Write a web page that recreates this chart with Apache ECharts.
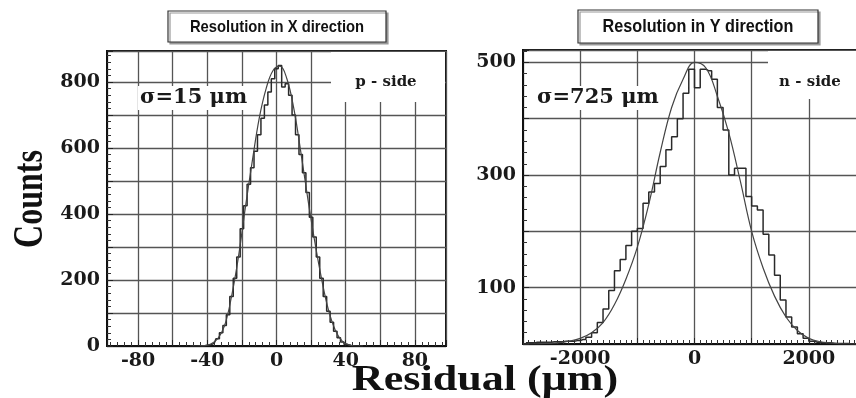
<!DOCTYPE html>
<html>
<head>
<meta charset="utf-8">
<script src="https://cdn.jsdelivr.net/npm/echarts@6/dist/echarts.min.js"></script>
<style>
html,body{margin:0;padding:0;background:#fff;}
#main{width:856px;height:398px;}
</style>
</head>
<body>
<div id="main"></div>
<script>
var dom = document.getElementById("main");
var myChart = echarts.init(dom);

// p-side, residual in X (um), 2 um bins
var binsX = [-44,-42,-40,-38,-36,-34,-32,-30,-28,-26,-24,-22,-20,-18,-16,-14,-12,-10,-8,-6,-4,-2,
    0,2,4,6,8,10,12,14,16,18,20,22,24,26,28,30,32,34,36,38,40,42,44];
var countsX = [0,0,2,4,8,22,40,62,95,150,205,270,355,425,490,540,590,640,690,730,770,810,
    840,850,785,795,760,700,640,580,525,465,390,330,270,205,150,105,72,45,25,12,5,2,0];
// gaussian fit
var fitPosX = [-50,-46,-42,-38,-34,-30,-26,-22,-18,-14,-10,-6,-2,2,6,10,14,18,22,26,30,34,38,42,46,50];
var fitValX = [0,0,1,6,22,62,150,270,420,560,690,780,835,848,810,720,590,450,320,205,110,48,15,3,0,0];

// n-side, residual in Y (um), 100 um bins
var binsY = [-2950,-2850,-2750,-2650,-2550,-2450,-2350,-2250,-2150,-2050,-1950,-1850,-1750,-1650,
    -1550,-1450,-1350,-1250,-1150,-1050,-950,-850,-750,-650,-550,-450,-350,-250,-150,-50,
    50,150,250,350,450,550,650,750,850,950,1050,1150,1250,1350,1450,1550,1650,1750,1850,1950,
    2050,2150,2250,2350,2450,2550,2650,2750,2850,2950];
var countsY = [2,2,3,3,3,4,4,5,5,6,8,12,20,38,
    62,95,130,150,175,200,205,250,270,285,315,345,368,400,445,488,
    455,488,485,470,420,380,300,312,312,262,245,238,195,158,122,78,48,30,18,10,
    5,3,2,2,1,1,1,0,0,0];
var fitPosY = [-3000,-2800,-2600,-2400,-2200,-2000,-1800,-1600,-1400,-1200,-1000,-800,-600,-400,-200,
    0,200,400,600,800,1000,1200,1400,1600,1800,2000,2200,2400,2600,2800,3000];
var fitValY = [0,0,1,2,5,10,20,38,70,115,172,248,340,420,470,
    500,490,440,375,290,200,135,85,48,24,10,4,2,0,0,0];

function pairs(xs, ys) {
    return xs.map(function (x, i) { return [x, ys[i]]; });
}

var lineCol = '#2a2a2a';
var gridCol = '#555';

function xAxisOf(idx, min, max, interval, minorSplit, showLabel) {
    var ax = {
        type: 'value', gridIndex: idx, min: min, max: max,
        axisLine: {show: true, onZero: false, lineStyle: {color: '#111', width: 2}},
        axisTick: {show: true, inside: true, length: 6, lineStyle: {color: '#222'}},
        minorTick: {show: true, splitNumber: minorSplit, length: 4, lineStyle: {color: '#333'}},
        splitLine: {show: true, lineStyle: {color: gridCol, width: 1.3}},
        axisLabel: {
            margin: 6, color: '#1a1a1a', fontFamily: 'DejaVu Serif', fontWeight: 'bold', fontSize: 19,
            formatter: showLabel
        }
    };
    if (interval) ax.interval = interval; else ax.splitNumber = 10;
    return ax;
}

function yAxisOf(idx, max, showLabel) {
    return {
        type: 'value', gridIndex: idx, min: 0, max: max, interval: 100,
        axisLine: {show: true, onZero: false, lineStyle: {color: '#111', width: 2}},
        axisTick: {show: true, inside: true, length: 6, lineStyle: {color: '#222'}},
        minorTick: {show: true, splitNumber: 5, length: 4, lineStyle: {color: '#333'}},
        splitLine: {show: true, lineStyle: {color: gridCol, width: 1.3}},
        axisLabel: {
            margin: 7, color: '#1a1a1a', fontFamily: 'DejaVu Serif', fontWeight: 'bold', fontSize: 19,
            formatter: showLabel
        }
    };
}

var option = {
    backgroundColor: '#fff',
    animation: false,
    grid: [
        {left: 107, top: 51, width: 339, height: 295, show: true, borderColor: '#111', borderWidth: 2,
            outerBoundsMode: 'none'},
        {left: 523, top: 50, width: 343, height: 294, show: true, borderColor: '#111', borderWidth: 2,
            outerBoundsMode: 'none'}
    ],
    xAxis: [
        xAxisOf(0, -98, 98, null, 5, function (v) {
            return (v % 40 === 0 && Math.abs(v) <= 80) ? String(v) : '';
        }),
        xAxisOf(1, -3000, 3000, 1000, 10, function (v) {
            return (v % 2000 === 0 && Math.abs(v) <= 2000) ? String(v) : '';
        })
    ],
    yAxis: [
        yAxisOf(0, 894, function (v) { return (v % 200 === 0 && v <= 800) ? String(v) : ''; }),
        yAxisOf(1, 522, function (v) { return (v === 100 || v === 300 || v === 500) ? String(v) : ''; })
    ],
    series: [
        {
            type: 'line', xAxisIndex: 0, yAxisIndex: 0, step: 'middle', showSymbol: false,
            data: pairs(binsX, countsX), lineStyle: {color: lineCol, width: 1.5}, z: 4
        },
        {
            type: 'line', xAxisIndex: 0, yAxisIndex: 0, smooth: 0.4, showSymbol: false,
            data: pairs(fitPosX, fitValX), lineStyle: {color: '#444', width: 1.2}, z: 4
        },
        {
            type: 'line', xAxisIndex: 1, yAxisIndex: 1, step: 'middle', showSymbol: false,
            data: pairs(binsY, countsY), lineStyle: {color: lineCol, width: 1.5}, z: 4
        },
        {
            type: 'line', xAxisIndex: 1, yAxisIndex: 1, smooth: 0.4, showSymbol: false,
            data: pairs(fitPosY, fitValY), lineStyle: {color: '#444', width: 1.2}, z: 4
        }
    ],
    graphic: [
        // white boxes behind the labels inside the frames
        {type: 'rect', z: 1, shape: {x: 331, y: 52, width: 114, height: 50}, style: {fill: '#fff'}},
        {type: 'rect', z: 1, shape: {x: 768, y: 51, width: 90, height: 48}, style: {fill: '#fff'}},
        {type: 'rect', z: 1, shape: {x: 138, y: 86, width: 122, height: 24}, style: {fill: '#fff'}},
        {type: 'rect', z: 1, shape: {x: 533, y: 86, width: 140, height: 24}, style: {fill: '#fff'}},
        {type: 'text', z: 5, style: {x: 140, y: 98, text: 'σ=15 μm', font: 'bold 21px "DejaVu Serif"',
            fill: '#1a1a1a', align: 'left', verticalAlign: 'middle'}},
        {type: 'text', z: 5, style: {x: 537, y: 98, text: 'σ=725 μm', font: 'bold 21px "DejaVu Serif"',
            fill: '#1a1a1a', align: 'left', verticalAlign: 'middle'}},
        {type: 'text', z: 5, style: {x: 386, y: 82, text: 'p - side', font: 'bold 15px "DejaVu Serif"',
            fill: '#1a1a1a', align: 'center', verticalAlign: 'middle'}},
        {type: 'text', z: 5, style: {x: 810, y: 82, text: 'n - side', font: 'bold 15px "DejaVu Serif"',
            fill: '#1a1a1a', align: 'center', verticalAlign: 'middle'}},
        // panel titles
        {type: 'rect', z: 5, shape: {x: 168, y: 11, width: 218, height: 31},
            style: {fill: '#fff', stroke: '#333', lineWidth: 1.2, shadowColor: '#999', shadowOffsetX: 2, shadowOffsetY: 2}},
        {type: 'text', z: 6, x: 277, y: 27, scaleX: 0.87, style: {text: 'Resolution in X direction',
            font: 'bold 17px "Liberation Sans"', fill: '#111', align: 'center', verticalAlign: 'middle'}},
        {type: 'rect', z: 5, shape: {x: 578, y: 10, width: 240, height: 33},
            style: {fill: '#fff', stroke: '#333', lineWidth: 1.2, shadowColor: '#999', shadowOffsetX: 2, shadowOffsetY: 2}},
        {type: 'text', z: 6, x: 698, y: 27, scaleX: 0.9, style: {text: 'Resolution in Y direction',
            font: 'bold 18px "Liberation Sans"', fill: '#111', align: 'center', verticalAlign: 'middle'}},
        // axis titles (times-like, stretched sideways like the source figure)
        {type: 'text', z: 6, x: 31, y: 199, rotation: Math.PI / 2, scaleY: 1.35, style: {text: 'Counts',
            font: 'bold 32px "Liberation Serif"', fill: '#111', align: 'center', verticalAlign: 'middle'}},
        {type: 'text', z: 6, x: 485, y: 381, scaleX: 1.26, style: {text: 'Residual (μm)',
            font: 'bold 35px "Liberation Serif"', fill: '#111', align: 'center', verticalAlign: 'middle'}}
    ]
};

myChart.setOption(option);
window.onresize = function () {
    myChart.resize();
};
</script>
</body>
</html>
